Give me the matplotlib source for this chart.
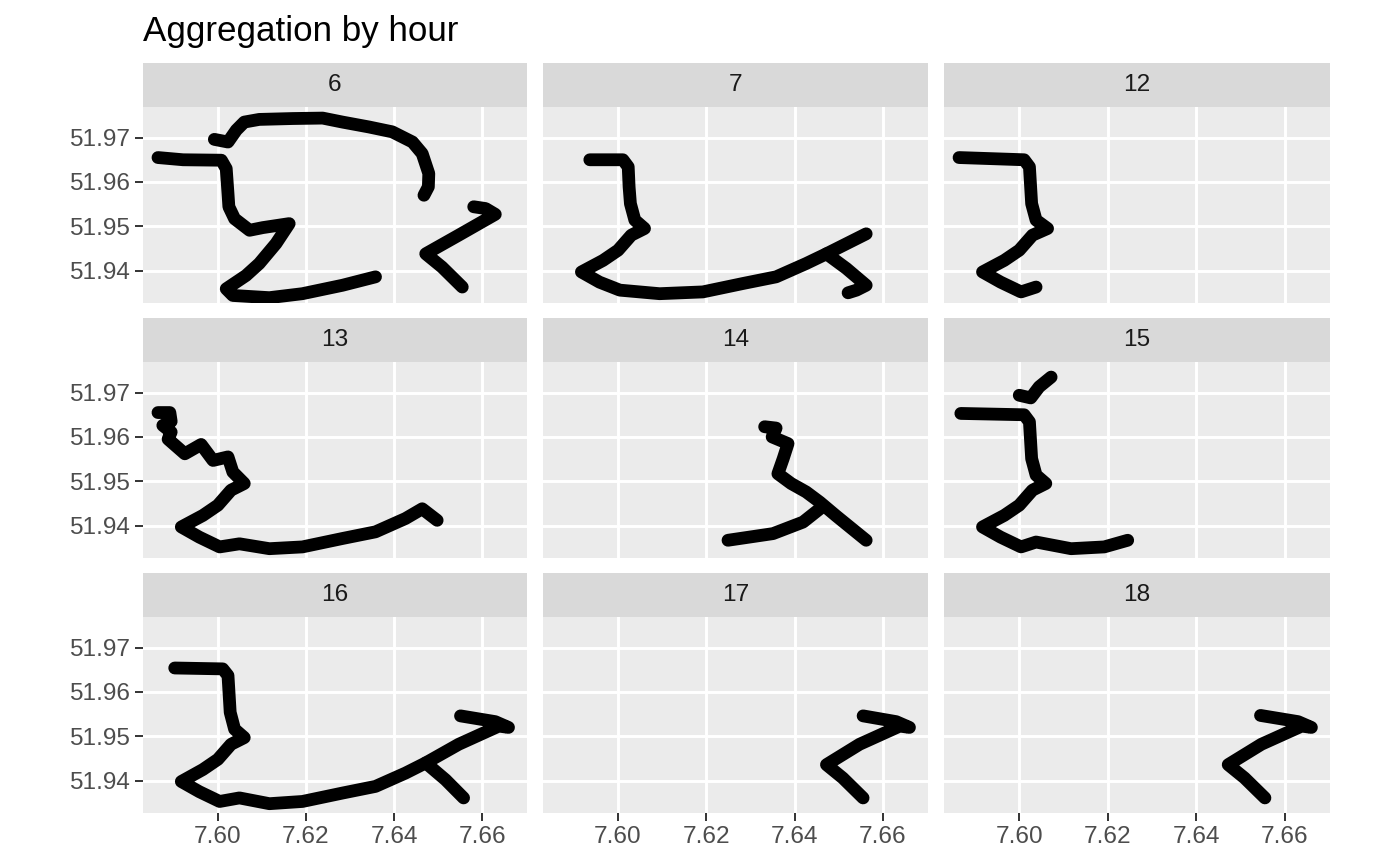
import matplotlib
matplotlib.use("Agg")
import matplotlib.pyplot as plt

plt.rcParams['font.family'] = ['Liberation Sans', 'DejaVu Sans']

hours = [6, 7, 12, 13, 14, 15, 16, 17, 18]
x_ticks = [7.60, 7.62, 7.64, 7.66]
x_labels = ["7.60", "7.62", "7.64", "7.66"]
y_ticks = [51.94, 51.95, 51.96, 51.97]
y_labels = ["51.94", "51.95", "51.96", "51.97"]
title = "Aggregation by hour"

# ---- tracks (lon / lat) ----
h6_a_lon = [7.5864, 7.5921, 7.6008, 7.6019, 7.6023, 7.6025, 7.6038, 7.6072, 7.6102, 7.6162, 7.6132, 7.6094, 7.6064, 7.6019, 7.6034, 7.6117, 7.6192, 7.6283, 7.6358]
h6_a_lat = [51.9655, 51.9650, 51.9649, 51.9630, 51.9574, 51.9544, 51.9517, 51.9491, 51.9497, 51.9506, 51.9461, 51.9416, 51.9389, 51.9359, 51.9344, 51.9339, 51.9348, 51.9367, 51.9386]
h6_b_lon = [7.5992, 7.6023, 7.6042, 7.6060, 7.6094, 7.6170, 7.6238, 7.6283, 7.6343, 7.6396, 7.6442, 7.6464, 7.6479, 7.6478, 7.6468]
h6_b_lat = [51.9696, 51.9690, 51.9717, 51.9735, 51.9741, 51.9743, 51.9744, 51.9735, 51.9724, 51.9713, 51.9690, 51.9664, 51.9619, 51.9589, 51.9570]
h6_c_lon = [7.6581, 7.6608, 7.6630, 7.6547, 7.6472, 7.6509, 7.6555]
h6_c_lat = [51.9544, 51.9540, 51.9527, 51.9480, 51.9438, 51.9408, 51.9363]

h7_a_lon = [7.5936, 7.6011, 7.6023, 7.6025, 7.6028, 7.6038, 7.6060, 7.6030, 7.6000, 7.5966, 7.5917, 7.5958, 7.6004, 7.6094, 7.6192, 7.6283, 7.6358, 7.6426, 7.6472, 7.6562]
h7_a_lat = [51.9650, 51.9650, 51.9634, 51.9589, 51.9551, 51.9514, 51.9495, 51.9480, 51.9446, 51.9423, 51.9397, 51.9374, 51.9356, 51.9348, 51.9352, 51.9371, 51.9386, 51.9416, 51.9438, 51.9483]
h7_b_lon = [7.6472, 7.6517, 7.6562, 7.6540, 7.6521]
h7_b_lat = [51.9438, 51.9405, 51.9367, 51.9356, 51.9350]

h12_a_lon = [7.5864, 7.6011, 7.6023, 7.6028, 7.6038, 7.6064, 7.6030, 7.6000, 7.5966, 7.5917, 7.5958, 7.6004, 7.6038]
h12_a_lat = [51.9655, 51.9650, 51.9634, 51.9551, 51.9514, 51.9495, 51.9480, 51.9446, 51.9423, 51.9397, 51.9374, 51.9352, 51.9363]

h13_a_lon = [7.5864, 7.5891, 7.5894, 7.5875, 7.5894, 7.5887, 7.5925, 7.5962, 7.5989, 7.6023, 7.6034, 7.6060, 7.6030, 7.6000, 7.5966, 7.5917, 7.5958, 7.6004, 7.6049, 7.6117, 7.6192, 7.6283, 7.6358, 7.6426, 7.6464, 7.6498]
h13_a_lat = [51.9655, 51.9655, 51.9635, 51.9626, 51.9611, 51.9595, 51.9562, 51.9583, 51.9547, 51.9555, 51.9521, 51.9495, 51.9480, 51.9446, 51.9423, 51.9397, 51.9374, 51.9352, 51.9359, 51.9348, 51.9352, 51.9371, 51.9386, 51.9416, 51.9438, 51.9412]

h14_a_lon = [7.6332, 7.6358, 7.6349, 7.6385, 7.6374, 7.6362, 7.6392, 7.6426, 7.6457, 7.6494, 7.6562]
h14_a_lat = [51.9623, 51.9620, 51.9600, 51.9585, 51.9551, 51.9517, 51.9495, 51.9476, 51.9453, 51.9422, 51.9367]
h14_b_lon = [7.6249, 7.6351, 7.6419, 7.6457]
h14_b_lat = [51.9367, 51.9382, 51.9408, 51.9438]

h15_a_lon = [7.6000, 7.6026, 7.6045, 7.6072]
h15_a_lat = [51.9694, 51.9688, 51.9713, 51.9735]
h15_b_lon = [7.5868, 7.6011, 7.6023, 7.6028, 7.6038, 7.6060, 7.6030, 7.6000, 7.5966, 7.5917, 7.5958, 7.6004, 7.6038, 7.6117, 7.6192, 7.6245]
h15_b_lat = [51.9653, 51.9650, 51.9634, 51.9551, 51.9514, 51.9495, 51.9480, 51.9446, 51.9423, 51.9397, 51.9374, 51.9352, 51.9363, 51.9348, 51.9352, 51.9367]

h16_a_lon = [7.5902, 7.6011, 7.6023, 7.6028, 7.6038, 7.6060, 7.6030, 7.6000, 7.5966, 7.5917, 7.5958, 7.6004, 7.6049, 7.6117, 7.6192, 7.6283, 7.6358, 7.6426, 7.6472, 7.6547, 7.6638, 7.6660, 7.6630, 7.6551]
h16_a_lat = [51.9654, 51.9652, 51.9637, 51.9554, 51.9516, 51.9497, 51.9482, 51.9448, 51.9425, 51.9398, 51.9375, 51.9353, 51.9361, 51.9348, 51.9353, 51.9372, 51.9387, 51.9417, 51.9440, 51.9482, 51.9523, 51.9520, 51.9533, 51.9546]
h16_b_lon = [7.6472, 7.6517, 7.6558]
h16_b_lat = [51.9440, 51.9402, 51.9361]

h17_a_lon = [7.6555, 7.6630, 7.6660, 7.6638, 7.6547, 7.6472, 7.6509, 7.6555]
h17_a_lat = [51.9546, 51.9533, 51.9520, 51.9523, 51.9482, 51.9436, 51.9406, 51.9361]

h18_a_lon = [7.6545, 7.6630, 7.6660, 7.6638, 7.6547, 7.6472, 7.6509, 7.6555]
h18_a_lat = [51.9547, 51.9533, 51.9520, 51.9523, 51.9482, 51.9436, 51.9406, 51.9361]

tracks = {
    6: [(h6_a_lon, h6_a_lat), (h6_b_lon, h6_b_lat), (h6_c_lon, h6_c_lat)],
    7: [(h7_a_lon, h7_a_lat), (h7_b_lon, h7_b_lat)],
    12: [(h12_a_lon, h12_a_lat)],
    13: [(h13_a_lon, h13_a_lat)],
    14: [(h14_a_lon, h14_a_lat), (h14_b_lon, h14_b_lat)],
    15: [(h15_a_lon, h15_a_lat), (h15_b_lon, h15_b_lat)],
    16: [(h16_a_lon, h16_a_lat), (h16_b_lon, h16_b_lat)],
    17: [(h17_a_lon, h17_a_lat)],
    18: [(h18_a_lon, h18_a_lat)],
}

W, H = 1400, 865
fig = plt.figure(figsize=(W / 100, H / 100), dpi=100)

cols = [(143, 527), (543, 928), (944, 1330)]
rows = [(63, 107, 303), (318, 362, 558), (573, 617, 813)]

xlim = (7.5830, 7.6702)
ylim = (51.9327, 51.9769)

for i, hr in enumerate(hours):
    r, c = divmod(i, 3)
    x0, x1 = cols[c]
    s0, p0, p1 = rows[r]
    ax = fig.add_axes([x0 / W, 1 - p1 / H, (x1 - x0) / W, (p1 - p0) / H])
    ax.set_facecolor('#EBEBEB')
    for sp in ax.spines.values():
        sp.set_visible(False)
    ax.set_xlim(*xlim)
    ax.set_ylim(*ylim)
    ax.set_xticks(x_ticks)
    ax.set_yticks(y_ticks)
    ax.grid(True, color='white', linewidth=2.1)
    ax.set_axisbelow(True)
    ax.tick_params(axis='both', length=5.5, width=1.4, color='#333333',
                   labelsize=17.6, labelcolor='#4D4D4D', pad=4)
    if r == 2:
        ax.set_xticklabels(x_labels)
    else:
        ax.tick_params(axis='x', length=0, labelbottom=False)
    if c == 0:
        ax.set_yticklabels(y_labels)
    else:
        ax.tick_params(axis='y', length=0, labelleft=False)
    for lon, lat in tracks[hr]:
        ax.plot(lon, lat, color='black', linewidth=9.2,
                solid_capstyle='round', solid_joinstyle='round')
    # strip
    sax = fig.add_axes([x0 / W, 1 - p0 / H, (x1 - x0) / W, (p0 - s0) / H])
    sax.set_facecolor('#D9D9D9')
    for sp in sax.spines.values():
        sp.set_visible(False)
    sax.set_xticks([])
    sax.set_yticks([])
    sax.text(0.5, 0.5, str(hr), ha='center', va='center', fontsize=17.6,
             color='#1A1A1A', transform=sax.transAxes)

fig.text(143 / W, 1 - 31 / H, title, ha='left', va='center', fontsize=25.2, color='black')

fig.savefig('out.png', dpi=100)
